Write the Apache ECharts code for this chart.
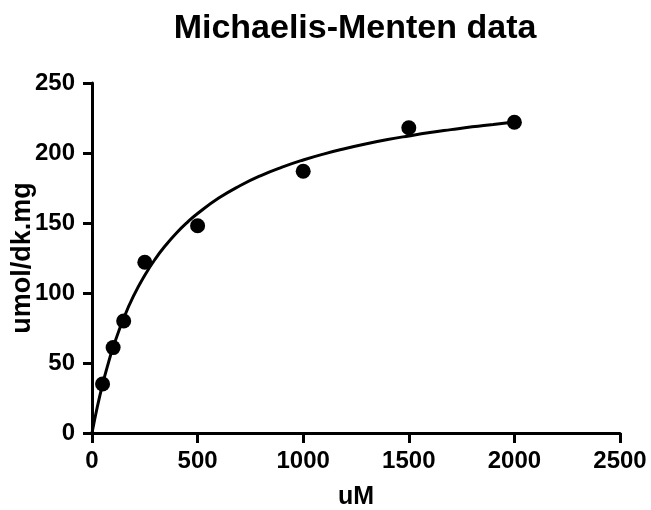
<!DOCTYPE html>
<html>
<head>
<meta charset="utf-8">
<script src="https://cdn.jsdelivr.net/npm/echarts@6/dist/echarts.min.js"></script>
<style>html,body{margin:0;padding:0;background:#fff}#c{width:651px;height:510px}</style>
</head>
<body>
<div id="c"></div>
<script>
// Measured points
var substrateX = [50, 100, 150, 250, 500, 1000, 1500, 2000];
var rateY = [35, 61, 80, 122, 148, 187, 218, 222];
// Fitted curve
var curveX = [0, 25, 50, 75, 100, 150, 200, 250, 300, 350, 400, 450, 500, 600, 700, 800, 900, 1000, 1100, 1200, 1300, 1400, 1500, 1600, 1700, 1800, 1900, 2000];
var curveY = [0, 18.6, 34.7, 48.7, 61.2, 82.0, 98.9, 112.7, 124.4, 134.3, 142.9, 150.3, 156.8, 167.8, 176.6, 183.9, 189.9, 195.0, 199.4, 203.2, 206.6, 209.6, 212.2, 214.6, 216.7, 218.7, 220.4, 222.2];
var xTicks = [0, 500, 1000, 1500, 2000, 2500];
var yTicks = [0, 50, 100, 150, 200, 250];

var pts = substrateX.map(function (x, i) { return [x, rateY[i]]; });
var curve = curveX.map(function (x, i) { return [x, curveY[i]]; });
var F = '"Liberation Sans", Arial, sans-serif';

var chart = echarts.init(document.getElementById('c'), null, {renderer: 'canvas'});
chart.setOption({
  animation: false,
  backgroundColor: '#fff',
  title: {
    text: 'Michaelis-Menten data',
    left: 350, top: 7, textAlign: 'center',
    textStyle: {fontFamily: F, fontWeight: 'bold', fontSize: 34, color: '#000'}
  },
  grid: {left: 92, right: 31, top: 83, bottom: 77, containLabel: false, outerBoundsMode: 'none'},
  xAxis: {
    type: 'value', min: xTicks[0], max: xTicks[xTicks.length - 1], interval: 500,
    name: 'uM', nameLocation: 'middle', nameGap: 52, nameMoveOverlap: false,
    nameTextStyle: {fontFamily: F, fontWeight: 'bold', fontSize: 25, color: '#000'},
    axisLine: {lineStyle: {color: '#000', width: 3}},
    axisTick: {show: true, length: 10, lineStyle: {color: '#000', width: 3}},
    axisLabel: {margin: 16, fontFamily: F, fontWeight: 'bold', fontSize: 24, color: '#000',
      formatter: function (v) { return String(v); }},
    splitLine: {show: false}
  },
  yAxis: {
    type: 'value', min: yTicks[0], max: yTicks[yTicks.length - 1], interval: 50,
    name: 'umol/dk.mg', nameLocation: 'middle', nameGap: 56, nameMoveOverlap: false,
    nameTextStyle: {fontFamily: F, fontWeight: 'bold', fontSize: 27, color: '#000'},
    axisLine: {show: true, lineStyle: {color: '#000', width: 3}},
    axisTick: {show: true, length: 9, lineStyle: {color: '#000', width: 3}},
    axisLabel: {margin: 17, fontFamily: F, fontWeight: 'bold', fontSize: 24, color: '#000',
      formatter: function (v) { return String(v); }},
    splitLine: {show: false}
  },
  series: [
    {
      type: 'line', data: curve, smooth: true, showSymbol: false, symbol: 'none',
      lineStyle: {color: '#000', width: 3}, z: 2
    },
    {
      type: 'scatter', data: pts, symbol: 'circle', symbolSize: 15,
      itemStyle: {color: '#000', opacity: 1}, z: 3
    }
  ]
});
</script>
</body>
</html>
